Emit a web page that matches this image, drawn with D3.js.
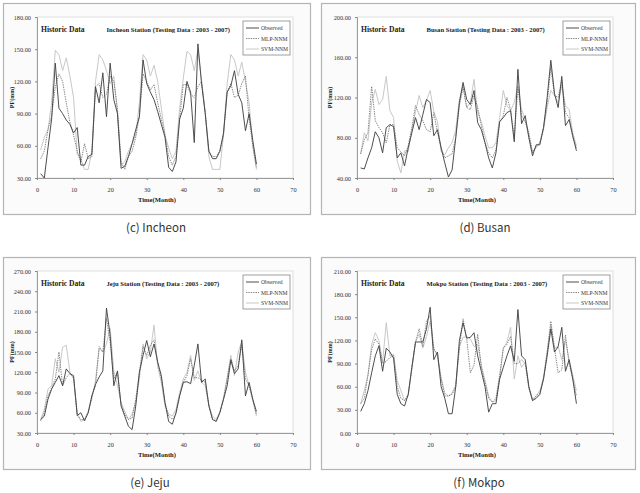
<!DOCTYPE html>
<html><head><meta charset="utf-8">
<script src="https://cdn.jsdelivr.net/npm/d3@7"></script>
<style>body{margin:0;background:#fff}svg{display:block}</style>
</head><body>
<svg id="c" width="640" height="493"></svg>
<script>
const months = d3.range(1, 61);
const xTicks = [0,10,20,30,40,50,60,70];
const seriesNames = ["Observed","MLP-NNM","SVM-NNM"];

const incheonObserved = [34,30,58,85,137,95,90,84,80,72,77,42,42,50,52,115,100,128,87,137,103,90,39,41,50,62,75,87,140,118,110,103,92,80,68,40,36,45,85,95,120,110,63,155,118,90,55,48,48,55,72,110,116,130,108,100,74,90,65,43];
const incheonMLP = [48,55,75,88,115,127,120,100,82,70,55,45,62,48,50,115,118,105,108,125,120,95,45,38,50,55,68,88,127,120,112,117,100,85,70,50,42,50,85,117,117,108,105,115,120,92,55,50,50,55,70,110,118,105,107,118,125,85,60,40];
const incheonSVM = [56,68,75,100,149,145,130,142,125,105,52,48,38,38,55,120,145,140,130,118,125,90,42,45,55,62,70,100,145,140,125,135,120,95,70,58,48,55,95,123,148,145,130,150,120,90,50,38,38,38,70,118,145,140,125,138,120,100,60,38];

const busanObserved = [50,49,60,70,86,80,65,90,93,91,60,65,52,70,85,100,88,103,118,115,82,88,70,55,41,48,80,115,135,118,113,127,95,88,75,60,50,65,96,100,105,107,76,148,94,102,80,62,73,73,90,120,157,124,110,141,92,98,82,67];
const busanMLP = [64,78,85,131,97,90,85,75,93,93,70,66,62,72,90,112,103,97,88,86,105,85,70,60,62,64,80,112,130,110,108,122,110,92,75,65,60,68,95,102,120,108,80,130,102,96,85,65,72,75,90,115,150,122,120,137,105,100,80,70];
const busanSVM = [64,85,77,115,128,113,118,141,107,100,57,45,67,66,88,106,122,110,117,127,106,96,66,63,70,75,88,118,132,110,115,138,105,96,82,70,70,75,100,127,112,107,115,132,108,98,80,66,70,75,88,110,127,122,115,132,112,108,85,72];

const jejuObserved = [50,55,80,95,105,115,100,125,118,115,56,60,48,60,85,102,113,122,215,175,100,122,70,55,40,35,70,120,145,167,143,162,135,115,75,47,43,60,85,105,106,103,130,162,105,110,70,50,47,60,80,100,138,118,125,168,85,105,80,62];
const jejuMLP = [48,60,85,97,110,150,100,112,118,112,56,50,50,60,85,100,158,150,200,165,110,120,72,58,50,52,80,120,158,145,160,168,135,110,75,55,50,58,85,105,115,140,112,112,108,105,72,50,48,60,80,110,140,122,130,160,110,100,78,58];
const jejuSVM = [50,65,95,100,140,120,157,160,120,110,60,47,50,62,80,108,155,150,162,185,122,100,75,62,50,58,75,110,162,140,150,190,128,105,70,58,55,65,90,110,120,145,108,122,105,100,70,55,50,62,82,112,145,115,150,165,120,100,80,55];

const mokpoObserved = [28,38,55,78,100,113,80,110,105,97,50,38,35,50,85,118,118,118,135,163,95,105,60,45,25,25,60,120,143,123,124,130,100,80,60,27,38,38,70,85,100,113,93,160,100,95,60,42,45,50,70,100,135,105,112,137,80,95,70,38];
const mokpoMLP = [38,45,75,108,122,115,90,93,98,100,60,45,42,50,85,118,135,112,145,152,110,100,70,48,48,50,60,110,148,122,78,88,128,85,65,45,40,45,75,110,115,125,90,90,95,90,58,42,48,52,70,105,145,110,78,82,127,90,70,48];
const mokpoSVM = [38,55,75,115,130,120,92,143,100,102,68,55,42,48,82,118,128,110,125,145,108,102,72,52,48,52,62,112,124,125,122,112,115,88,68,48,40,42,70,110,118,137,70,100,85,92,58,44,48,55,72,105,140,110,112,95,120,95,75,55];

const incheonYTicks = [30,60,90,120,150,180];
const busanYTicks = [40,80,120,160,200];
const jejuYTicks = [30,60,90,120,150,180,210,240,270];
const mokpoYTicks = [0,30,60,90,120,150,180,210];

const stationNames = ["Incheon","Busan","Jeju","Mokpo"];
const captions = ["(c)  Incheon","(d)  Busan","(e)  Jeju","(f)  Mokpo"];

const panels = [
  {name:stationNames[0], cap:captions[0], series:[incheonObserved,incheonMLP,incheonSVM], yt:incheonYTicks,
   frame:[3,3,307,211], plot:[37,17,293,178], capPos:[156,232]},
  {name:stationNames[1], cap:captions[1], series:[busanObserved,busanMLP,busanSVM], yt:busanYTicks,
   frame:[321,3,314,211], plot:[357,17,613,178], capPos:[485,232]},
  {name:stationNames[2], cap:captions[2], series:[jejuObserved,jejuMLP,jejuSVM], yt:jejuYTicks,
   frame:[3,257,307,212], plot:[37,271,293,433], capPos:[150,487]},
  {name:stationNames[3], cap:captions[3], series:[mokpoObserved,mokpoMLP,mokpoSVM], yt:mokpoYTicks,
   frame:[321,257,314,212], plot:[357,271,613,433], capPos:[479,487]}
];

const styles = [
  {stroke:"#444", width:0.95, dash:null},
  {stroke:"#666", width:0.8, dash:"1.4,1"},
  {stroke:"#c8c8c8", width:1, dash:null}
];
const serif = "'Liberation Serif','Times New Roman',serif";
const svg = d3.select("#c");

panels.forEach(p => {
  const g = svg.append("g");
  const [fx,fy,fw,fh] = p.frame;
  g.append("rect").attr("x",fx+0.5).attr("y",fy+0.5).attr("width",fw).attr("height",fh)
    .attr("fill","#fbfbfb").attr("stroke","#b4b4b4").attr("stroke-width",1.2);
  const [x0,y0,x1,y1] = p.plot;
  const x = d3.scaleLinear().domain([0,70]).range([x0,x1]);
  const y = d3.scaleLinear().domain([p.yt[0], p.yt[p.yt.length-1]]).range([y1,y0]);
  g.append("rect").attr("x",x0).attr("y",y0).attr("width",x1-x0).attr("height",y1-y0)
    .attr("fill","#fff").attr("stroke","#d8d8d8").attr("stroke-width",0.8);

  const yAxis = g.append("g").attr("transform",`translate(${x0},0)`)
    .call(d3.axisLeft(y).tickValues(p.yt).tickFormat(d3.format(".2f")).tickSize(2).tickPadding(4));
  const xAxis = g.append("g").attr("transform",`translate(0,${y1})`)
    .call(d3.axisBottom(x).tickValues(xTicks).tickFormat(d3.format("d")).tickSize(2).tickPadding(8));
  [yAxis,xAxis].forEach(a => {
    a.select(".domain").attr("stroke","#888").attr("stroke-width",0.8);
    a.selectAll(".tick line").attr("stroke","#888");
    a.selectAll("text").attr("font-family",serif).attr("font-size",6.3).attr("fill","#333");
  });

  const line = d3.line().x((d,i)=>x(months[i])).y(d=>y(d));
  [2,1,0].forEach(k => {
    g.append("path").datum(p.series[k]).attr("d",line).attr("fill","none")
      .attr("stroke",styles[k].stroke).attr("stroke-width",styles[k].width)
      .attr("stroke-dasharray",styles[k].dash);
  });

  g.append("text").attr("x",x0+4).attr("y",y0+15).text("Historic Data")
    .attr("font-family",serif).attr("font-weight","bold").attr("font-size",7.6).attr("fill","#222");
  g.append("text").attr("x",x(19)).attr("y",y0+15)
    .text(`${p.name} Station (Testing Data : 2003 - 2007)`)
    .attr("font-family",serif).attr("font-weight","bold").attr("font-size",6.6).attr("fill","#222");

  g.append("text").attr("x",(x0+x1)/2 - 8).attr("y",y1+24).attr("text-anchor","middle").text("Time(Month)")
    .attr("font-family",serif).attr("font-weight","bold").attr("font-size",6.6).attr("fill","#222");
  g.append("text").attr("transform",`translate(${fx+11},${(y0+y1)/2}) rotate(-90)`).attr("text-anchor","middle")
    .text("PF(mm)").attr("font-family",serif).attr("font-weight","bold").attr("font-size",6).attr("fill","#222");

  const lx = x1-50, ly = y0+4;
  const lg = g.append("g");
  lg.append("rect").attr("x",lx).attr("y",ly).attr("width",47).attr("height",34)
    .attr("fill","#fff").attr("stroke","#777").attr("stroke-width",0.7);
  seriesNames.forEach((n,k) => {
    const yy = ly + 7 + k*10.5;
    lg.append("line").attr("x1",lx+3).attr("x2",lx+16).attr("y1",yy).attr("y2",yy)
      .attr("stroke",styles[k].stroke).attr("stroke-width",styles[k].width).attr("stroke-dasharray",styles[k].dash);
    lg.append("text").attr("x",lx+18).attr("y",yy+2).text(n)
      .attr("font-family",serif).attr("font-size",5.6).attr("fill","#333");
  });

  svg.append("text").attr("x",p.capPos[0]).attr("y",p.capPos[1]).attr("text-anchor","middle").text(p.cap)
    .attr("font-family","'Noto Sans CJK KR','Noto Sans',sans-serif").attr("font-size",11.5).attr("fill","#333");
});
</script>
</body></html>
